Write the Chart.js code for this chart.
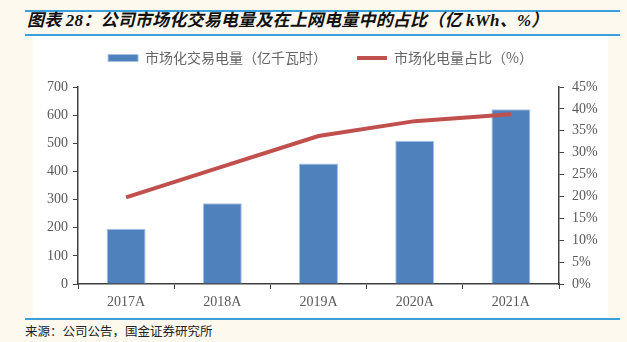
<!DOCTYPE html>
<html>
<head>
<meta charset="utf-8">
<script src="https://cdn.jsdelivr.net/npm/chart.js@4/dist/chart.umd.min.js"></script>
<style>
  body { margin: 0; width: 627px; height: 342px; background: #fdf9ef; position: relative; overflow: hidden; }
  .rule { position: absolute; left: 25px; width: 595px; height: 2px; background: #3aa0dc; }
  #title { position: absolute; left: 27px; top: 11px; line-height: 20px; font-size: 17px; font-weight: bold; font-style: italic;
           font-family: "Liberation Serif", "Noto Sans CJK SC", serif; color: #111; white-space: nowrap; letter-spacing: 0.2px; }
  #box { position: absolute; left: 33px; top: 36px; width: 575px; height: 281px; background: #fff; }
  #source { position: absolute; left: 25px; top: 322px; line-height: 18px; font-size: 12.5px; font-family: "Noto Sans CJK SC", sans-serif; color: #222; }
</style>
</head>
<body>
<div class="rule" style="top:10px"></div>
<div id="title">图表 28：公司市场化交易电量及在上网电量中的占比（亿 kWh、%）</div>
<div class="rule" style="top:34px"></div>
<div id="box"><canvas id="chart" width="575" height="281"></canvas></div>
<div class="rule" style="top:318px"></div>
<div id="source">来源：公司公告，国金证券研究所</div>
<script>
// data
const years = ['2017A', '2018A', '2019A', '2020A', '2021A'];
const marketVolume = [196, 287, 428, 509, 621];      // 亿千瓦时
const marketShare = [19.8, 26.8, 33.8, 37.2, 38.8];   // %
const leftTicks = [0, 100, 200, 300, 400, 500, 600, 700];
const rightTicks = [0, 5, 10, 15, 20, 25, 30, 35, 40, 45];

const tickFont = { family: '"Liberation Serif", serif', size: 14 };
const axisColor = '#404040';

// keep legend height fixed so the plot sits where it does in the picture
const legendHeight = {
    id: 'legendHeight',
    beforeInit(chart) {
        const legend = chart.legend;
        const fit = legend.fit;
        legend.fit = function () {
            fit.call(this);
            this.height = 66;
        };
    }
};

new Chart(document.getElementById('chart'), {
    type: 'bar',
    data: {
        labels: years,
        datasets: [
            {
                label: '市场化交易电量（亿千瓦时）',
                data: marketVolume,
                backgroundColor: '#4f81bd',
                borderColor: '#a9c1e1',
                borderWidth: 1,
                barPercentage: 0.405,
                categoryPercentage: 1,
                pointStyle: 'rect',
                yAxisID: 'y',
                order: 2
            },
            {
                type: 'line',
                label: '市场化电量占比（%）',
                data: marketShare,
                borderColor: '#c0504d',
                backgroundColor: '#c0504d',
                borderWidth: 4,
                pointRadius: 0,
                pointStyle: 'line',
                tension: 0,
                yAxisID: 'y1',
                order: 1
            }
        ]
    },
    options: {
        responsive: false,
        animation: false,
        layout: { padding: { top: -15, left: 0, right: 0, bottom: 0 } },
        plugins: {
            tooltip: { enabled: false },
            legend: {
                display: true,
                position: 'top',
                labels: {
                    usePointStyle: true,
                    pointStyleWidth: 30,
                    boxHeight: 7,
                    padding: 30,
                    color: '#666666',
                    font: { family: '"Noto Sans CJK SC", sans-serif', size: 14 },
                    sort: (a, b) => a.datasetIndex - b.datasetIndex
                }
            }
        },
        scales: {
            x: {
                grid: { drawOnChartArea: false, offset: true, tickLength: 5, color: axisColor, lineWidth: 1 },
                border: { color: axisColor, width: 1.5 },
                ticks: { color: '#595959', font: tickFont, padding: 5 },
                afterFit(scale) { scale.height = 33; }
            },
            y: {
                position: 'left',
                min: 0,
                max: 700,
                afterBuildTicks(scale) { scale.ticks = leftTicks.map(v => ({ value: v })); },
                grid: { drawOnChartArea: false, tickLength: 5, color: axisColor },
                border: { color: axisColor, width: 1.5 },
                ticks: { color: '#595959', font: tickFont, padding: 5 },
                afterFit(scale) { scale.width = 45; }
            },
            y1: {
                position: 'right',
                min: 0,
                max: 45,
                afterBuildTicks(scale) { scale.ticks = rightTicks.map(v => ({ value: v })); },
                grid: { drawOnChartArea: false, tickLength: 5, color: axisColor },
                border: { color: axisColor, width: 1.5 },
                ticks: { color: '#595959', font: tickFont, padding: 8, callback: v => v + '%' },
                afterFit(scale) { scale.width = 49; }
            }
        }
    },
    plugins: [legendHeight]
});
</script>
</body>
</html>
